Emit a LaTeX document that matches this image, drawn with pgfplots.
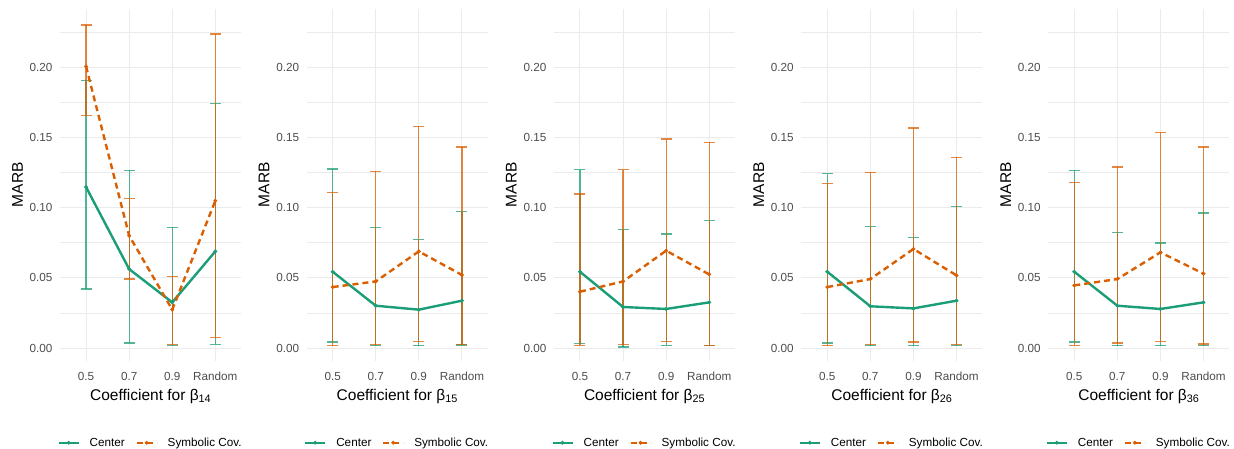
\documentclass[border=0pt]{standalone}
\usepackage{pgfplots}
\pgfplotsset{compat=1.18}
\usepackage{pgfplotstable}
\usepackage{fontspec}
\setmainfont{Liberation Sans}
\definecolor{cgreen}{HTML}{1B9E77}
\definecolor{corange}{HTML}{D95F02}
\definecolor{gridc}{HTML}{EBEBEB}
\definecolor{tickc}{HTML}{4D4D4D}

% panel 1 (beta 14)
\pgfplotstableread{
x y hi lo
0 0.1146 0.1905 0.0420
1 0.0562 0.1265 0.0036
2 0.0325 0.0859 0.0019
3 0.0688 0.1739 0.0026
}\cA
\pgfplotstableread{
x y hi lo
0 0.2005 0.2299 0.1656
1 0.0800 0.1063 0.0491
2 0.0273 0.0510 0.0024
3 0.1049 0.2235 0.0076
}\sA
% panel 2 (beta 15)
\pgfplotstableread{
x y hi lo
0 0.0543 0.1274 0.0043
1 0.0301 0.0859 0.0017
2 0.0273 0.0771 0.0017
3 0.0337 0.0970 0.0021
}\cB
\pgfplotstableread{
x y hi lo
0 0.0434 0.1106 0.0017
1 0.0474 0.1257 0.0024
2 0.0688 0.1578 0.0047
3 0.0520 0.1431 0.0024
}\sB
% panel 3 (beta 25)
\pgfplotstableread{
x y hi lo
0 0.0543 0.1269 0.0031
1 0.0292 0.0842 0.0007
2 0.0278 0.0811 0.0019
3 0.0325 0.0906 0.0017
}\cC
\pgfplotstableread{
x y hi lo
0 0.0401 0.1096 0.0019
1 0.0474 0.1269 0.0024
2 0.0693 0.1488 0.0047
3 0.0524 0.1464 0.0019
}\sC
% panel 4 (beta 26)
\pgfplotstableread{
x y hi lo
0 0.0543 0.1241 0.0036
1 0.0297 0.0864 0.0017
2 0.0282 0.0788 0.0017
3 0.0337 0.1006 0.0017
}\cD
\pgfplotstableread{
x y hi lo
0 0.0434 0.1170 0.0019
1 0.0491 0.1250 0.0024
2 0.0705 0.1566 0.0043
3 0.0517 0.1359 0.0024
}\sD
% panel 5 (beta 36)
\pgfplotstableread{
x y hi lo
0 0.0543 0.1265 0.0043
1 0.0301 0.0823 0.0017
2 0.0278 0.0747 0.0017
3 0.0325 0.0961 0.0017
}\cE
\pgfplotstableread{
x y hi lo
0 0.0446 0.1181 0.0019
1 0.0491 0.1288 0.0036
2 0.0681 0.1535 0.0047
3 0.0529 0.1431 0.0028
}\sE

\pgfplotsset{
  panel/.style={
    at={(#1pt,87.5pt)}, anchor=south west,
    scale only axis, width=181pt, height=351.5pt,
    xmin=-0.6, xmax=3.6, ymin=-0.0089, ymax=0.2414,
    xtick={0,1,2,3}, xticklabels={0.5,0.7,0.9,Random},
    ytick={0,0.05,0.1,0.15,0.2},
    minor ytick={0.025,0.075,0.125,0.175,0.225},
    /pgf/number format/fixed,
    /pgf/number format/fixed zerofill,
    /pgf/number format/precision=2,
    /pgf/number format/assume math mode=true,
    grid=both,
    major grid style={draw=gridc, line width=1pt},
    minor grid style={draw=gridc, line width=0.5pt},
    axis line style={draw=none},
    tick style={draw=none},
    major tick length=0pt, minor tick length=0pt,
    tick label style={font=\fontsize{11.7}{14}\selectfont, text=tickc},
    xticklabel style={anchor=base, yshift=-20.2pt},
    yticklabel style={anchor=east, inner sep=0pt, xshift=-7.5pt},
    label style={font=\fontsize{15.5}{18}\selectfont, text=black},
    xlabel style={at={(axis description cs:0.5,-0.1124)}, anchor=base},
    ylabel style={at={(axis description cs:-0.236,0.5)}, anchor=center},
    ylabel={MARB},
    legend columns=2,
    legend style={draw=none, fill=none, inner sep=0pt,
      at={(axis description cs:-0.0166,-0.2339)}, anchor=west,
      font=\fontsize{11.7}{14}\selectfont,
      nodes={inner sep=0pt},
      /tikz/every odd column/.append style={column sep=9.9pt},
      /tikz/every even column/.append style={column sep=10.6pt}},
    legend image code/.code={\draw[mark repeat=2,mark phase=2,##1] plot coordinates {(0pt,0pt) (10pt,0pt) (20pt,0pt)};},
  },
  ebar/.style={forget plot, draw=none, mark=none,
    error bars/.cd, y dir=both, y explicit,
    error bar style={draw=#1, line width=1.3pt, draw opacity=0.75},
    error mark options={rotate=90, mark size=5.5pt, line width=1.3pt, draw=#1, draw opacity=0.75}},
  cline/.style={cgreen, line width=2.4pt, mark=*, mark size=1.7pt, mark options={solid, fill=cgreen, draw=cgreen, line width=0.5pt}},
  sline/.style={corange, line width=2.4pt, dash pattern=on 6pt off 4pt, mark=*, mark size=1.7pt, mark options={solid, fill=corange, draw=corange, line width=0.5pt}},
}

\newcommand{\panel}[4]{%
\begin{axis}[panel=#1, xlabel={Coefficient for β\textsubscript{#4}}]
\addplot[ebar=cgreen] table[x=x, y=y, y error plus expr=\thisrow{hi}-\thisrow{y}, y error minus expr=\thisrow{y}-\thisrow{lo}] {#2};
\addplot[ebar=corange] table[x=x, y=y, y error plus expr=\thisrow{hi}-\thisrow{y}, y error minus expr=\thisrow{y}-\thisrow{lo}] {#3};
\addplot[cline] table[x=x, y=y] {#2};
\addplot[sline] table[x=x, y=y] {#3};
\legend{Center, Symbolic Cov.}
\end{axis}}

\begin{document}
\begin{tikzpicture}
\useasboundingbox (0,0) rectangle (1234pt,448pt);
\panel{60.2}{\cA}{\sA}{14}
\panel{306.8}{\cB}{\sB}{15}
\panel{554.1}{\cC}{\sC}{25}
\panel{801.4}{\cD}{\sD}{26}
\panel{1048.4}{\cE}{\sE}{36}
\end{tikzpicture}
\end{document}
